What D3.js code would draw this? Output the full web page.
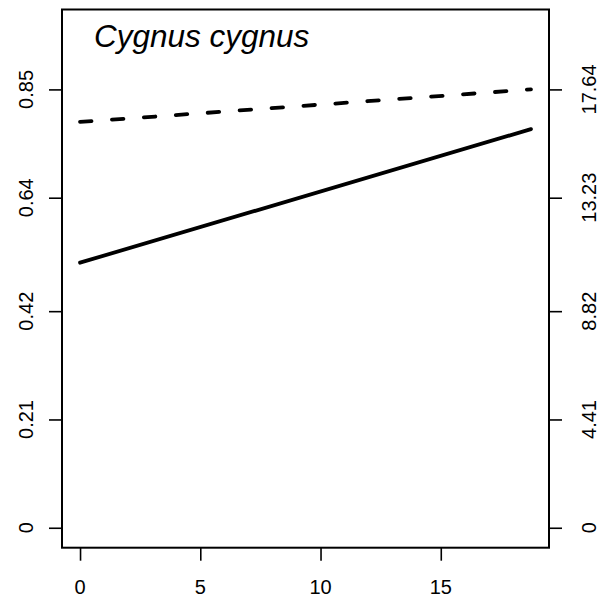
<!DOCTYPE html>
<html>
<head>
<meta charset="utf-8">
<script src="https://cdn.jsdelivr.net/npm/d3@7"></script>
<style>
  html, body { margin: 0; padding: 0; background: #fff; }
  svg { display: block; }
  text { font-family: "Liberation Sans", Arial, sans-serif; fill: #000; }
</style>
</head>
<body>
<svg id="chart" width="601" height="600"></svg>
<script>
// ---- data ----
const title = "Cygnus cygnus";
const xTicks = [0, 5, 10, 15];
const leftTicks = [0, 0.21, 0.42, 0.64, 0.85];
const leftLabels = ["0", "0.21", "0.42", "0.64", "0.85"];
const rightLabels = ["0", "4.41", "8.82", "13.23", "17.64"];
const rightMax = 17.64;
const solidX = [0, 18.75];
const solidY = [0.514, 0.773];          // left axis units
const dashedX = [0, 18.75];
const dashedY = [16.33, 17.64];         // right axis units

// ---- layout ----
const svg = d3.select("#chart");
const L = 62, R = 549, T = 9.5, B = 547.7;
const xlim = [0, 18.75], ylim = [0, 0.9663];
const xd = (xlim[1] - xlim[0]) * 0.04, yd = (ylim[1] - ylim[0]) * 0.04;
const x = d3.scaleLinear().domain([xlim[0] - xd, xlim[1] + xd]).range([L, R]);
const y = d3.scaleLinear().domain([ylim[0] - yd, ylim[1] + yd]).range([B, T]);
const yR = d3.scaleLinear().domain([0, rightMax]).range([y(0), y(0.85)]);

// axes (ticks only)
const gx = svg.append("g").attr("transform", `translate(0,${B})`)
  .call(d3.axisBottom(x).tickValues(xTicks).tickSize(13).tickFormat(""));
const gl = svg.append("g").attr("transform", `translate(${L},0)`)
  .call(d3.axisLeft(y).tickValues(leftTicks).tickSize(13).tickFormat(""));
const gr = svg.append("g").attr("transform", `translate(${R},0)`)
  .call(d3.axisRight(y).tickValues(leftTicks).tickSize(13).tickFormat(""));
[gx, gl, gr].forEach(g => {
  g.select(".domain").remove();
  g.selectAll(".tick line").attr("stroke", "#000").attr("stroke-width", 1.6);
});

// labels
svg.append("g").selectAll("text").data(xTicks).join("text")
  .attr("x", d => x(d)).attr("y", 594)
  .attr("text-anchor", "middle").attr("font-size", 20)
  .text(d => d);
svg.append("g").selectAll("text").data(leftTicks).join("text")
  .attr("transform", d => `translate(33,${y(d)}) rotate(-90)`)
  .attr("text-anchor", "middle").attr("font-size", 20)
  .text((d, i) => leftLabels[i]);
svg.append("g").selectAll("text").data(leftTicks).join("text")
  .attr("transform", d => `translate(596,${y(d)}) rotate(-90)`)
  .attr("text-anchor", "middle").attr("font-size", 20)
  .text((d, i) => rightLabels[i]);

// lines
const solid = solidX.map((v, i) => [v, solidY[i]]);
const dashed = dashedX.map((v, i) => [v, dashedY[i]]);
svg.append("path").datum(solid)
  .attr("d", d3.line().x(d => x(d[0])).y(d => y(d[1])))
  .attr("fill", "none").attr("stroke", "#000").attr("stroke-width", 3.8)
  .attr("stroke-linecap", "round");
svg.append("path").datum(dashed)
  .attr("d", d3.line().x(d => x(d[0])).y(d => yR(d[1])))
  .attr("fill", "none").attr("stroke", "#000").attr("stroke-width", 3.8)
  .attr("stroke-linecap", "round").attr("stroke-dasharray", "11.5 20.5");

// box
svg.append("rect").attr("x", L).attr("y", T).attr("width", R - L).attr("height", B - T)
  .attr("fill", "none").attr("stroke", "#000").attr("stroke-width", 2);

// title
svg.append("text").attr("x", 94).attr("y", 47).attr("font-size", 31.5)
  .attr("font-style", "italic").text(title);
</script>
</body>
</html>
